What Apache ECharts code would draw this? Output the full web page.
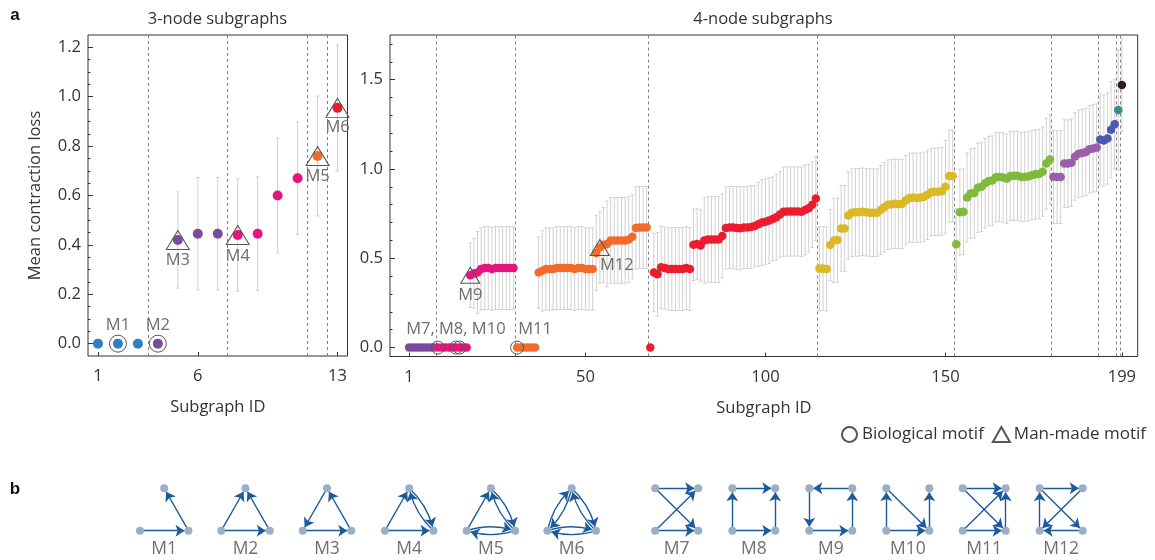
<!DOCTYPE html>
<html><head><meta charset="utf-8">
<script src="https://cdn.jsdelivr.net/npm/echarts@6/dist/echarts.min.js"></script>
<style>html,body{margin:0;padding:0;background:#fff}#c{width:1155px;height:560px}</style>
</head><body><div id="c"></div>
<script>
// ---------------- DATA ----------------
// 3-node subgraphs
const ids3 = [1,2,3,4,5,6,7,8,9,10,11,12,13];
const loss3 = [0,0,0,0,0.42,0.445,0.445,0.44,0.445,0.60,0.67,0.76,0.955];
const err3  = [0,0,0,0,0.195,0.228,0.228,0.228,0.23,0.233,0.228,0.243,0.255];
const groups3 = [[1,3],[4,7],[8,11],[12,12],[13,13]];
const dividers3 = [3.5,7.5,11.5,12.5];
const bio3 = [2,4];        const bioNames3 = ['M1','M2'];
const man3 = [5,8,12,13];  const manNames3 = ['M3','M4','M5','M6'];
const xTicks3 = [1,6,13];
const yTicks3 = [0,0.2,0.4,0.6,0.8,1.0,1.2];
const yMinor3 = [0,0.05,0.1,0.15,0.2,0.25,0.3,0.35,0.4,0.45,0.5,0.55,0.6,0.65,0.7,0.75,0.8,0.85,0.9,0.95,1.0,1.05,1.1,1.15,1.2];

// 4-node subgraphs (ids 1..199)
const loss4 = [
 0,0,0,0,0,0,0,0,
 0,0,0,0,0,0,0,0,0,
 0.405,0.415,0.42,0.44,0.445,0.445,0.44,0.445,0.445,0.445,0.445,0.445,0.445,
 0,0,0,0,0,0,
 0.42,0.43,0.44,0.44,0.44,0.445,0.445,0.445,0.445,0.445,0.44,0.445,0.445,0.44,0.44,0.44,
 0.53,0.56,0.575,0.58,0.60,0.60,0.60,0.60,0.60,0.605,0.62,0.67,0.672,0.672,0.672,
 0,
 0.42,0.41,0.45,0.445,0.44,0.44,0.44,0.44,0.44,0.445,0.44,
 0.575,0.58,0.572,0.60,0.605,0.605,0.605,0.605,0.625,
 0.67,0.672,0.672,0.67,0.668,0.672,0.672,0.675,0.68,0.69,
 0.70,0.705,0.712,0.72,0.73,0.745,0.76,0.762,0.762,0.762,0.762,0.76,0.77,0.78,0.80,0.835,
 0.442,0.442,0.44,0.574,0.60,0.602,0.667,0.667,0.74,0.755,0.757,0.757,0.76,0.757,0.755,0.755,0.755,0.77,0.785,0.80,0.803,0.805,0.803,0.805,0.825,0.838,0.84,0.838,0.84,0.845,0.855,0.87,0.872,0.873,0.875,0.90,0.96,0.96,
 0.578,0.758,0.76,0.84,0.862,0.865,0.895,0.90,0.92,0.932,0.935,0.953,0.955,0.952,0.945,0.96,0.962,0.962,0.955,0.957,0.958,0.965,0.97,0.972,0.985,1.03,1.053,
 0.956,0.955,0.955,1.03,1.03,1.035,1.07,1.085,1.09,1.095,1.11,1.115,1.12,
 1.165,1.16,1.17,1.22,1.25,1.33,1.47
];
const err4 = [
 0,0,0,0,0,0,0,0,
 0,0,0,0,0,0,0,0,0,
 0.18,0.195,0.23,0.23,0.232,0.232,0.232,0.232,0.232,0.232,0.232,0.232,0.232,
 0,0,0,0,0,0,
 0.2,0.225,0.23,0.23,0.23,0.232,0.232,0.232,0.232,0.232,0.232,0.232,0.232,0.23,0.23,0.23,
 0.21,0.2,0.21,0.24,0.24,0.24,0.24,0.24,0.24,0.24,0.235,0.23,0.23,0.23,0.23,
 0,
 0.22,0.235,0.23,0.23,0.23,0.232,0.232,0.232,0.232,0.232,0.232,
 0.2,0.2,0.2,0.24,0.24,0.24,0.24,0.24,0.235,
 0.23,0.23,0.23,0.232,0.232,0.23,0.23,0.232,0.225,0.235,
 0.24,0.24,0.24,0.235,0.24,0.24,0.25,0.25,0.25,0.25,0.25,0.25,0.25,0.245,0.24,0.235,
 0.235,0.235,0.235,0.2,0.235,0.235,0.24,0.24,0.245,0.245,0.245,0.245,0.245,0.245,0.245,0.245,0.245,0.25,0.25,0.25,0.25,0.25,0.25,0.25,0.25,0.25,0.25,0.25,0.25,0.25,0.25,0.245,0.245,0.245,0.245,0.26,0.257,0.257,
 0.2,0.24,0.24,0.25,0.25,0.25,0.25,0.25,0.25,0.25,0.25,0.25,0.25,0.25,0.25,0.25,0.25,0.25,0.25,0.25,0.25,0.25,0.25,0.25,0.25,0.255,0.25,
 0.26,0.26,0.26,0.245,0.245,0.245,0.245,0.245,0.245,0.245,0.245,0.245,0.245,
 0.255,0.255,0.255,0.27,0.25,0.335,0.26
];
const ids4 = loss4.map((_, i) => i + 1);
const groups4 = [[1,8],[9,30],[31,67],[68,114],[115,152],[153,179],[180,192],[193,197],[198,198],[199,199]];
const dividers4 = [8.5,30.5,67.5,114.5,152.5,179.5,192.5,197.5,198.5];
const bio4 = [9,14,15,31];  const bioNames4 = ['','M7, M8, M10','','M11'];
const man4 = [18,54];       const manNames4 = ['M9','M12'];
const xTicks4 = [1,50,100,150,199];
const yTicks4 = [0,0.5,1.0,1.5];
const yMinor4 = [0,0.1,0.2,0.3,0.4,0.5,0.6,0.7,0.8,0.9,1.0,1.1,1.2,1.3,1.4,1.5,1.6,1.7];

// Motif network diagrams (panel b): directed edges, third flag = curved (reciprocal pair)
const motifNames = ['M1','M2','M3','M4','M5','M6','M7','M8','M9','M10','M11','M12'];
const motifEdges = [
 [['B','C'],['C','A']],
 [['B','A'],['C','A'],['B','C']],
 [['A','B'],['C','A'],['B','C']],
 [['B','A'],['B','C'],['A','C',1],['C','A',1]],
 [['B','A'],['A','C',1],['C','A',1],['B','C',1],['C','B',1]],
 [['A','B',1],['B','A',1],['A','C',1],['C','A',1],['B','C',1],['C','B',1]],
 [['TL','TR'],['BL','BR'],['TL','BR'],['BL','TR']],
 [['TL','TR'],['BL','BR'],['BL','TL'],['BR','TR']],
 [['TR','TL'],['TL','BL'],['BL','BR'],['BR','TR']],
 [['BL','TL'],['TL','BR'],['BL','BR'],['BR','TR']],
 [['TL','TR'],['BL','BR'],['TL','BR'],['BL','TR'],['BR','TR']],
 [['TL','TR'],['BR','BL'],['BL','TL'],['TL','BR'],['TR','BL']]
];

// ---------------- STYLE / LAYOUT ----------------
const FONT = "'Open Sans', 'DejaVu Sans', sans-serif";
const palette3 = ['#2f7fc6','#7a4a9f','#e4157f','#f26b2b','#ec1c2f'];
const palette4 = ['#7a4a9f','#e4157f','#f26b2b','#ec1c2f','#dbb926','#80ba3c','#9b5ea9','#4b59b0','#3a8b8b','#2f1b29'];
const bioOffsets3 = [[0,-18],[0,-18]];
const manOffsets3 = [[0,20],[0,21],[0,20],[0,19]];
const bioOffsets4 = [[0,-18],[0,-18],[0,-18],[18,-18]];
const manOffsets4 = [[0,20],[17,18]];
const motifCenters = [164.2,245.5,327,409.2,490.9,571.7,676.7,753.8,830.8,907.8,984.2,1061.2];
const motifTop = 488.3;
const triShape = {A:[24.25,0], B:[0,42.4], C:[48.5,42.4]};
const sqShape = {TL:[0,0], TR:[43,0], BL:[0,42.4], BR:[43,42.4]};

function groupColor(groups, palette, id) {
  for (let i = 0; i < groups.length; i++) if (id >= groups[i][0] && id <= groups[i][1]) return palette[i];
  return '#000';
}
function points(ids, loss, groups, palette) {
  return ids.map((id, i) => ({ value: [id, loss[i]], itemStyle: { color: groupColor(groups, palette, id), opacity: 1 } }));
}
function errData(ids, loss, err) { return ids.map((id, i) => [id, loss[i], err[i]]); }
function markerData(sel, names, offsets, ids, loss) {
  return sel.map((id, k) => ({ name: names[k], value: [id, loss[ids.indexOf(id)]], label: { offset: offsets[k] } }));
}
function renderErr(params, api) {
  const x = api.value(0), v = api.value(1), e = api.value(2);
  if (!e) return null;
  const p1 = api.coord([x, v + e]);
  const p2 = api.coord([x, v - e]);
  const w = 1.7;
  const st = { stroke: '#d0d0d0', lineWidth: 1 };
  return { type: 'group', children: [
    { type: 'line', shape: { x1: p1[0], y1: p1[1], x2: p2[0], y2: p2[1] }, style: st },
    { type: 'line', shape: { x1: p1[0] - w, y1: p1[1], x2: p1[0] + w, y2: p1[1] }, style: st },
    { type: 'line', shape: { x1: p2[0] - w, y1: p2[1], x2: p2[0] + w, y2: p2[1] }, style: st }
  ]};
}
const markLineOf = (divs) => ({
  silent: true, symbol: 'none', z: 1, animation: false,
  label: { show: false },
  lineStyle: { color: '#808080', type: [3, 3], width: 1 },
  emphasis: { disabled: true },
  data: divs.map(x => ({ xAxis: x }))
});
const tickText = { fontSize: 16.5, color: '#333', fontFamily: FONT };
const nameText = { fontSize: 16.5, color: '#333', fontFamily: FONT };

function xAx(gi, min, max, ticks) {
  return { type: 'value', gridIndex: gi, min, max,
    axisLine: { show: false, onZero: false }, splitLine: { show: false },
    axisTick: { inside: true, length: 4, customValues: ticks, lineStyle: { color: '#333' } },
    axisLabel: Object.assign({ customValues: ticks, margin: 12 }, tickText),
    name: 'Subgraph ID', nameLocation: 'middle', nameGap: 43, nameTextStyle: nameText };
}
function yAx(gi, min, max, ticks, name) {
  return { type: 'value', gridIndex: gi, min, max, position: 'left',
    axisLine: { show: false, onZero: false }, splitLine: { show: false },
    axisTick: { inside: true, length: 5, customValues: ticks, lineStyle: { color: '#333' } },
    axisLabel: Object.assign({ customValues: ticks, margin: 7, formatter: v => v.toFixed(1) }, tickText),
    name: name, nameLocation: 'middle', nameGap: 44, nameTextStyle: nameText };
}
function yMinorAx(gi, min, max, ticks) {
  return { type: 'value', gridIndex: gi, min, max, position: 'left',
    axisLine: { show: false, onZero: false }, splitLine: { show: false }, axisLabel: { show: false },
    axisTick: { inside: true, length: 2.5, customValues: ticks, lineStyle: { color: '#333' } } };
}

// motif graph nodes / links
const gNodes = [], gLinks = [];
motifNames.forEach((nm, m) => {
  const shape = m < 6 ? triShape : sqShape;
  const w = m < 6 ? 48.5 : 43;
  const left = motifCenters[m] - w / 2;
  Object.keys(shape).forEach(k => gNodes.push({ name: nm + '_' + k, x: left + shape[k][0], y: motifTop + shape[k][1] }));
  motifEdges[m].forEach(e => gLinks.push({ source: nm + '_' + e[0], target: nm + '_' + e[1], lineStyle: { curveness: e[2] ? 0.16 : 0 } }));
});
const gxs = gNodes.map(n => n.x), gys = gNodes.map(n => n.y);
const gBox = { left: Math.min(...gxs), top: Math.min(...gys),
  width: Math.max(...gxs) - Math.min(...gxs), height: Math.max(...gys) - Math.min(...gys) };

const graphicTexts = [
  { type: 'text', x: 15, y: 15, style: { text: 'a', font: "bold 17px 'Liberation Sans', Arial, sans-serif", fill: '#111', align: 'center', verticalAlign: 'middle' } },
  { type: 'text', x: 15, y: 489, style: { text: 'b', font: "bold 17px 'Liberation Sans', Arial, sans-serif", fill: '#111', align: 'center', verticalAlign: 'middle' } },
  { type: 'text', x: 217.5, y: 19, style: { text: '3-node subgraphs', font: "16.5px " + FONT, fill: '#333', align: 'center', verticalAlign: 'middle' } },
  { type: 'text', x: 763, y: 19, style: { text: '4-node subgraphs', font: "16.5px " + FONT, fill: '#333', align: 'center', verticalAlign: 'middle' } }
].concat(motifNames.map((nm, m) => ({ type: 'text', x: motifCenters[m], y: 549,
  style: { text: nm, font: "17.5px " + FONT, fill: '#707070', align: 'center', verticalAlign: 'middle' } })));

const markerLabel = { show: true, position: 'inside', formatter: '{b}', color: '#6d6d6d', fontSize: 16.5, fontFamily: FONT };
const hollow = { color: 'transparent', borderColor: '#555', borderWidth: 1, opacity: 1 };

const option = {
  animation: false,
  backgroundColor: '#fff',
  textStyle: { fontFamily: FONT },
  grid: [
    { left: 88, top: 35, width: 259.5, height: 321, show: true, borderColor: '#333', borderWidth: 1, containLabel: false },
    { left: 390, top: 35, width: 747.7, height: 321.5, show: true, borderColor: '#333', borderWidth: 1, containLabel: false }
  ],
  xAxis: [ xAx(0, 0.5, 13.5, xTicks3), xAx(1, -4.3, 203.4, xTicks4) ],
  yAxis: [ yAx(0, -0.05, 1.25, yTicks3, 'Mean contraction loss'), yAx(1, -0.05, 1.75, yTicks4, ''),
           yMinorAx(0, -0.05, 1.25, yMinor3), yMinorAx(1, -0.05, 1.75, yMinor4) ],
  legend: {
    data: ['Biological motif', 'Man-made motif'],
    left: 836, top: 421, itemWidth: 17, itemHeight: 15, itemGap: 8, selectedMode: false,
    textStyle: { fontSize: 17, color: '#333', fontFamily: FONT, padding: [0, 0, 0, -1] }
  },
  graphic: graphicTexts,
  series: [
    { type: 'custom', xAxisIndex: 0, yAxisIndex: 0, renderItem: renderErr, data: errData(ids3, loss3, err3),
      encode: { x: 0, y: 1 }, silent: true, z: 1, markLine: markLineOf(dividers3) },
    { type: 'scatter', xAxisIndex: 0, yAxisIndex: 0, symbolSize: 10, data: points(ids3, loss3, groups3, palette3), silent: true, z: 3 },
    { type: 'scatter', name: 'Biological motif', xAxisIndex: 0, yAxisIndex: 0, symbol: 'circle', symbolSize: 17,
      itemStyle: hollow, label: markerLabel, data: markerData(bio3, bioNames3, bioOffsets3, ids3, loss3), silent: true, z: 4 },
    { type: 'scatter', name: 'Man-made motif', xAxisIndex: 0, yAxisIndex: 0, symbol: 'triangle', symbolSize: [23, 19],
      itemStyle: hollow, label: markerLabel, data: markerData(man3, manNames3, manOffsets3, ids3, loss3), silent: true, z: 4 },

    { type: 'custom', xAxisIndex: 1, yAxisIndex: 1, renderItem: renderErr, data: errData(ids4, loss4, err4),
      encode: { x: 0, y: 1 }, silent: true, z: 1, markLine: markLineOf(dividers4) },
    { type: 'scatter', xAxisIndex: 1, yAxisIndex: 1, symbolSize: 8.5, data: points(ids4, loss4, groups4, palette4), silent: true, z: 3 },
    { type: 'scatter', name: 'Biological motif', xAxisIndex: 1, yAxisIndex: 1, symbol: 'circle', symbolSize: 13,
      itemStyle: hollow, label: markerLabel, data: markerData(bio4, bioNames4, bioOffsets4, ids4, loss4), silent: true, z: 4 },
    { type: 'scatter', name: 'Man-made motif', xAxisIndex: 1, yAxisIndex: 1, symbol: 'triangle', symbolSize: [19, 16],
      itemStyle: hollow, label: markerLabel, data: markerData(man4, manNames4, manOffsets4, ids4, loss4), silent: true, z: 4 },

    { type: 'graph', layout: 'none', roam: false, silent: true,
      left: gBox.left, top: gBox.top, width: gBox.width, height: gBox.height,
      symbolSize: 8, itemStyle: { color: '#9aaec8' },
      lineStyle: { color: '#1c5a9b', width: 1.4, opacity: 1 },
      edgeSymbol: ['none', 'arrow'], edgeSymbolSize: [0, 9],
      label: { show: false }, emphasis: { disabled: true },
      data: gNodes, links: gLinks, z: 3 }
  ]
};
const chart = echarts.init(document.getElementById('c'), null, { renderer: 'canvas' });
chart.setOption(option);
</script>
</body></html>
